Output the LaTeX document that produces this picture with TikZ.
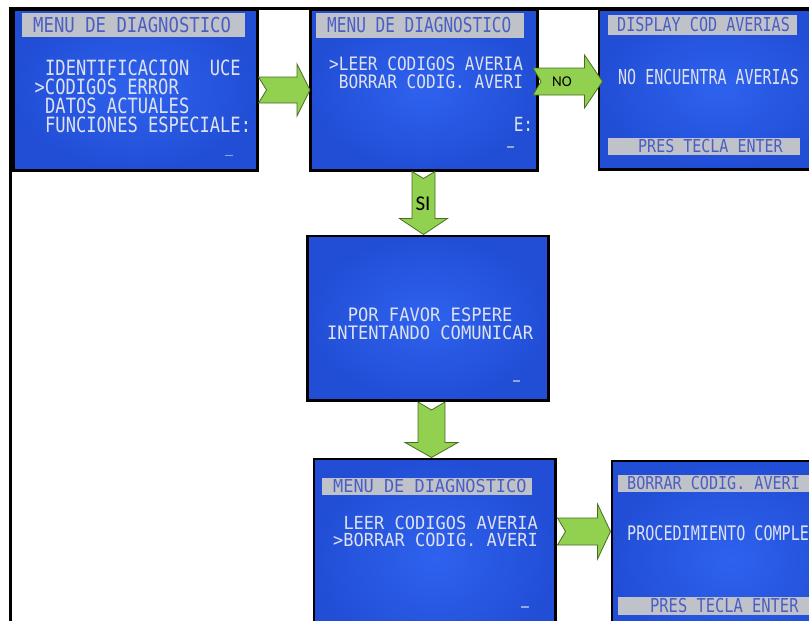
\documentclass[tikz,border=0pt]{standalone}
\usepackage{fontspec}
\usepackage{graphicx}
\usetikzlibrary{calc}
\newfontfamily\lcdfont{DejaVu Sans Mono}
\newfontfamily\lblfont{Carlito}

\definecolor{lcdIn}{RGB}{46,98,238}
\definecolor{lcdOut}{RGB}{34,78,214}
\definecolor{lcdInk}{RGB}{222,226,240}
\definecolor{barGrey}{RGB}{192,194,202}
\definecolor{barInk}{RGB}{74,94,196}
\definecolor{arrowFill}{RGB}{146,208,80}
\definecolor{arrowLine}{RGB}{72,110,36}

% one line of display text: x-scale, y-scale, text
\newcommand{\lcd}[3]{\scalebox{#1}[#2]{\lcdfont\fontsize{10pt}{12pt}\selectfont #3}}

% block arrow, left to right:
% from, to, y, half shaft, half head, head length, tail offset, notch depth, tip offset
\newcommand{\harrow}[9]{%
  \draw[blockarrow] let \p1=(#1.east), \p2=(#2.west), \p3=(0,#3) in
    (\x1+#7,\y3+#4) -- (\x2+#9-#6,\y3+#4) -- (\x2+#9-#6,\y3+#5) -- (\x2+#9,\y3)
    -- (\x2+#9-#6,\y3-#5) -- (\x2+#9-#6,\y3-#4) -- (\x1+#7,\y3-#4)
    -- (\x1+#7+#8,\y3) -- cycle;}
% block arrow, top to bottom:
% from, to, x, half shaft, half head, head length, tail offset, notch depth, tip offset
\newcommand{\varrow}[9]{%
  \draw[blockarrow] let \p1=(#1.south), \p2=(#2.north), \p3=(#3,0) in
    (\x3-#4,\y1-#7) -- (\x3-#4,\y2-#9+#6) -- (\x3-#5,\y2-#9+#6) -- (\x3,\y2-#9)
    -- (\x3+#5,\y2-#9+#6) -- (\x3+#4,\y2-#9+#6) -- (\x3+#4,\y1-#7)
    -- (\x3,\y1-#7-#8) -- cycle;}

\tikzset{
  lcdscreen/.style={draw=black, line width=2.8pt, inner color=lcdIn, outer color=lcdOut,
    anchor=north west, inner sep=0pt},
  lcdbar/.style={fill=barGrey, draw=none},
  lcdrow/.style={anchor=west, inner sep=0pt, text=lcdInk},
  bartext/.style={anchor=west, inner sep=0pt, text=barInk},
  lcdcursor/.style={draw=lcdInk, line width=1.4pt, opacity=0.6},
  blockarrow/.style={fill=arrowFill, draw=arrowLine, line width=0.8pt, line join=miter},
  arrowlabel/.style={font=\lblfont, text=black, inner sep=0pt}
}

\begin{document}
\begin{tikzpicture}[x=1pt, y=-1pt]
\useasboundingbox (0,0) rectangle (809,621);
\clip (0,0) rectangle (809,621);
\fill[white] (0,0) rectangle (809,621);

% outer frame
\draw[black, line width=3.5pt] (10.5,8.5) rectangle (860,680);

% display screens
\node[lcdscreen, minimum width=243.7pt, minimum height=160.2pt] (s1) at (12,8.5) {};
\node[lcdscreen, minimum width=227.2pt, minimum height=160.2pt] (s2) at (309,8.5) {};
\node[lcdscreen, minimum width=239.7pt, minimum height=159.2pt] (s3) at (597.5,8.5) {};
\node[lcdscreen, minimum width=240.7pt, minimum height=164.7pt] (s4) at (306,234.5) {};
\node[lcdscreen, minimum width=241.2pt, minimum height=199.7pt] (s5) at (312.5,457.5) {};
\node[lcdscreen, minimum width=236.7pt, minimum height=197.7pt] (s6) at (610.5,459.5) {};

% screen 1: main diagnostic menu
\fill[lcdbar] (22,13) rectangle (245,37);
\node[bartext] (s1h) at (33,25) {\lcd{1.73}{2.06}{MENU DE DIAGNOSTICO}};
\node[lcdrow] (s1r1) at (45,68) {\lcd{1.71}{2.1}{IDENTIFICACION~~UCE}};
\node[lcdrow] (s1r2) at (34.5,87) {\lcd{1.71}{2.1}{>CODIGOS ERROR}};
\node[lcdrow] (s1r3) at (45,106) {\lcd{1.71}{2.1}{DATOS ACTUALES}};
\node[lcdrow] (s1r4) at (45,125) {\lcd{1.71}{2.1}{FUNCIONES ESPECIALE:}};
\draw[lcdcursor] (225,155.5) -- (233,155.5);

% screen 2: error code menu, read selected
\fill[lcdbar] (316,13) rectangle (524,38);
\node[bartext] (s2h) at (327,25.5) {\lcd{1.61}{2.06}{MENU DE DIAGNOSTICO}};
\node[lcdrow] (s2r1) at (329,64) {\lcd{1.61}{1.85}{>LEER CODIGOS AVERIA}};
\node[lcdrow] (s2r2) at (338.7,82) {\lcd{1.61}{1.85}{BORRAR CODIG. AVERI}};
\node[lcdrow] (s2r3) at (513.6,124) {\lcd{1.61}{1.95}{E:}};
\draw[lcdcursor] (507,147) -- (514,147);

% screen 3: no faults found
\fill[lcdbar] (608,15) rectangle (797,35);
\node[bartext] (s3h) at (617,25) {\lcd{1.51}{1.92}{DISPLAY COD AVERIAS}};
\node[lcdrow] (s3r1) at (618,77) {\lcd{1.50}{2.06}{NO ENCUENTRA AVERIAS}};
\fill[lcdbar] (608,138) rectangle (800,155);
\node[bartext] (s3f) at (638,146.5) {\lcd{1.50}{1.78}{PRES TECLA ENTER}};

% screen 4: waiting for communication
\node[lcdrow] (s4r1) at (347.6,315) {\lcd{1.71}{1.85}{POR FAVOR ESPERE}};
\node[lcdrow] (s4r2) at (327,333) {\lcd{1.71}{1.85}{INTENTANDO COMUNICAR}};
\draw[lcdcursor] (513,381) -- (520,381);

% screen 5: error code menu, erase selected
\fill[lcdbar] (322,478) rectangle (532,495);
\node[bartext] (s5h) at (333,486.5) {\lcd{1.69}{1.78}{MENU DE DIAGNOSTICO}};
\node[lcdrow] (s5r1) at (343.3,522.5) {\lcd{1.70}{1.8}{LEER CODIGOS AVERIA}};
\node[lcdrow] (s5r2) at (333,540) {\lcd{1.70}{1.8}{>BORRAR CODIG. AVERI}};
\draw[lcdcursor] (521,607) -- (529,607);

% screen 6: erase completed
\fill[lcdbar] (618,475) rectangle (809,492);
\node[bartext] (s6h) at (627,483.5) {\lcd{1.51}{1.78}{BORRAR CODIG. AVERI}};
\node[lcdrow] (s6r1) at (627,533) {\lcd{1.51}{2.0}{PROCEDIMIENTO COMPLE}};
\fill[lcdbar] (618,597) rectangle (809,615);
\node[bartext] (s6f) at (650,606) {\lcd{1.54}{1.92}{PRES TECLA ENTER}};

% flow arrows
\harrow{s1}{s2}{90}{13pt}{26pt}{13pt}{0pt}{8pt}{1pt}
\harrow{s2}{s3}{81.5}{13.5pt}{26.5pt}{18pt}{-6pt}{8pt}{5pt}
\harrow{s5}{s6}{531.5}{13.5pt}{27.5pt}{13pt}{1pt}{8pt}{0pt}
\varrow{s2}{s4}{423.5}{11.5pt}{24pt}{16pt}{0pt}{7pt}{0pt}
\varrow{s4}{s5}{431.5}{13.5pt}{26.5pt}{15pt}{0pt}{8pt}{0pt}

\node[arrowlabel, font=\lblfont\fontsize{15pt}{18pt}\selectfont] (lno) at (562,81.5) {NO};
\node[arrowlabel, font=\lblfont\fontsize{21pt}{24pt}\selectfont] (lsi) at (423,204) {SI};
\end{tikzpicture}
\end{document}
